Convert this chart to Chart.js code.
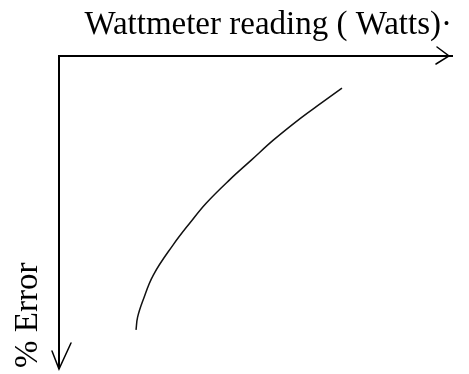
<!DOCTYPE html>
<html>
<head>
<meta charset="utf-8">
<script src="https://cdn.jsdelivr.net/npm/chart.js@4.4.0/dist/chart.umd.min.js"></script>
<style>
  html, body { margin: 0; padding: 0; background: #fff; }
  #wrap { width: 469px; height: 374px; }
</style>
</head>
<body>
<div id="wrap"><canvas id="chart" width="469" height="374"></canvas></div>
<script>
// values (arbitrary 0-100 units on both axes)
const readings = [19.6, 20.0, 21.4, 24.0, 29.0, 33.5, 37.5, 43.4, 49.0, 54.6, 61.5, 66.7, 72.0];
const errors   = [87.8, 83.7, 78.2, 70.2, 60.6, 53.2, 47.1, 39.7, 33.3, 26.9, 19.9, 15.1, 10.3];
const xTitle = 'Wattmeter reading ( Watts)·';
const yTitle = '% Error';

const points = readings.map((r, i) => ({ x: r, y: errors[i] }));
const serif = '"Liberation Serif", "Times New Roman", serif';

// open arrow heads on the axis ends + the rotated y label
// (chart.js puts a reversed-axis title off the canvas, so it is drawn here)
const axisDecor = {
  id: 'axisDecor',
  afterDraw(chart) {
    const { ctx, chartArea: a } = chart;
    ctx.save();
    ctx.strokeStyle = '#000';
    ctx.lineWidth = 1.5;
    ctx.lineCap = 'round';
    // x axis arrow
    const tx = a.right - 3, ty = a.top;
    ctx.beginPath();
    ctx.moveTo(tx - 12, ty - 9);
    ctx.lineTo(tx, ty);
    ctx.lineTo(tx - 13, ty + 8);
    ctx.stroke();
    // y axis arrow
    const bx = a.left, by = a.bottom + 1;
    ctx.beginPath();
    ctx.moveTo(bx - 7, by - 18);
    ctx.lineTo(bx, by);
    ctx.lineTo(bx + 12, by - 26);
    ctx.stroke();
    // y title, reading bottom to top
    ctx.translate(a.left - 22, a.bottom);
    ctx.rotate(-Math.PI / 2);
    ctx.fillStyle = '#000';
    ctx.font = '33px ' + serif;
    ctx.textAlign = 'left';
    ctx.textBaseline = 'alphabetic';
    ctx.fillText(yTitle, 0, 0);
    ctx.restore();
  }
};

new Chart(document.getElementById('chart'), {
  type: 'scatter',
  data: {
    datasets: [{
      data: points,
      showLine: true,
      borderColor: '#111',
      borderWidth: 1.5,
      pointRadius: 0,
      tension: 0.4
    }]
  },
  options: {
    responsive: false,
    animation: false,
    devicePixelRatio: 1,
    layout: { padding: { top: 0, left: 0, right: 17, bottom: 6 } },
    plugins: { legend: { display: false }, tooltip: { enabled: false } },
    scales: {
      x: {
        type: 'linear',
        position: 'top',
        min: 0,
        max: 100,
        ticks: { display: false },
        grid: { display: false },
        border: { display: true, color: '#000', width: 2 },
        title: {
          display: true, text: xTitle, align: 'end', color: '#000',
          font: { family: serif, size: 33, lineHeight: 1 },
          padding: { top: 8.5, bottom: 0 }
        },
        afterFit(scale) { scale.height = 56; }
      },
      y: {
        type: 'linear',
        position: 'left',
        reverse: true,
        min: 0,
        max: 100,
        ticks: { display: false },
        grid: { display: false },
        border: { display: true, color: '#000', width: 2 },
        title: { display: false },
        afterFit(scale) { scale.width = 59; }
      }
    }
  },
  plugins: [axisDecor]
});
</script>
</body>
</html>
